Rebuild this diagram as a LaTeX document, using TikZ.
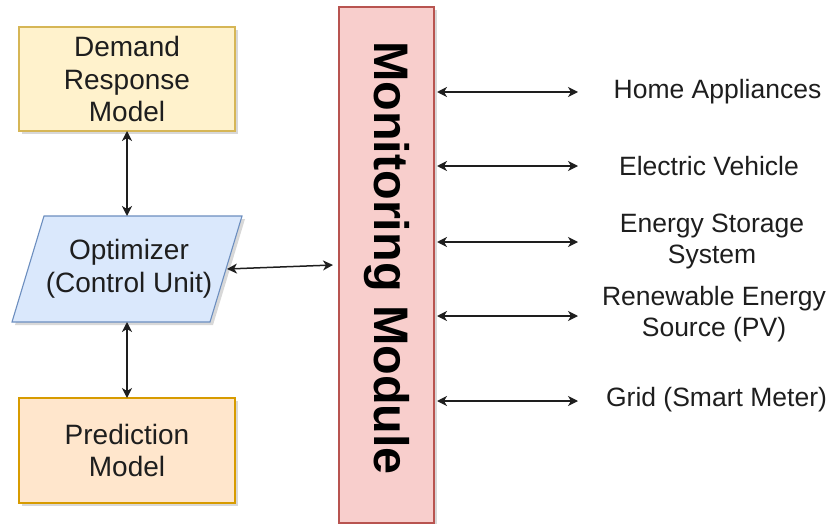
\documentclass[tikz,border=0pt]{standalone}
\usepackage{fontspec}
\setmainfont{Liberation Sans}
\usetikzlibrary{arrows.meta,shadows,calc}
\definecolor{drFill}{HTML}{FFF2CC}
\definecolor{drLine}{HTML}{D6B656}
\definecolor{optFill}{HTML}{DAE8FC}
\definecolor{optLine}{HTML}{6C8EBF}
\definecolor{pmFill}{HTML}{FFE6CC}
\definecolor{pmLine}{HTML}{D79B00}
\definecolor{monFill}{HTML}{F8CECC}
\definecolor{monLine}{HTML}{B85450}
\definecolor{ink}{HTML}{1E1E1E}
\begin{document}
\begin{tikzpicture}[x=1pt,y=-1pt,
  softshadow/.style={drop shadow={shadow xshift=3pt,shadow yshift=-3pt,opacity=0.22,fill=black!70}},
  modelbox/.style={draw,line width=1.1pt,inner sep=0pt,outer sep=0pt,
    minimum width=216pt,minimum height=104pt,align=center,text=ink,
    font=\fontsize{28}{32.5}\selectfont,softshadow},
  tip/.tip={Stealth[length=10pt,width=10pt,inset=3pt]},
  link/.style={tip-tip,line width=1.5pt,draw=ink},
  devlabel/.style={align=center,text=ink,font=\fontsize{26.5}{31}\selectfont}]
  \useasboundingbox (0,0) rectangle (832,524);

  % left column: models and the optimizer
  \node[modelbox,fill=drFill,draw=drLine] (dr) at (127,79) {Demand\\Response\\Model};
  \node[modelbox,fill=pmFill,draw=pmLine,minimum height=105pt] (pm) at (127,450.5) {Prediction\\Model};
  \node[inner sep=0pt,outer sep=0pt,minimum width=230pt,minimum height=106pt] (opt) at (127,269) {};
  \draw[fill=optFill,draw=optLine,line width=1.1pt,softshadow]
    ($(opt.north west)+(32,0)$) -- (opt.north east) -- ($(opt.south east)+(-32,0)$)
    -- (opt.south west) -- cycle;
  \node[align=center,text=ink,font=\fontsize{28}{32.5}\selectfont] (optText) at (129,269)
    {Optimizer\\(Control Unit)};

  % monitoring module
  \node[draw=monLine,fill=monFill,line width=1.1pt,inner sep=0pt,outer sep=0pt,
    minimum width=95pt,minimum height=516pt,softshadow] (mon) at (386.5,265) {};
  \node[rotate=-90,text=black,font=\fontsize{48.5}{50}\selectfont\bfseries] (monText)
    at (386.5,258) {Monitoring Module};

  % connections on the left
  \draw[link] (dr.south) -- (opt.north);
  \draw[link] (opt.south) -- (pm.north);
  \coordinate (optR) at (227,269);
  \coordinate (monIn) at (333,265);
  \draw[link] (optR) -- (monIn);

  % devices on the right
  \node[devlabel] (l1) at (717.5,92) {Home Appliances};
  \node[devlabel] (l2) at (709,166) {Electric Vehicle};
  \node[devlabel] (l3) at (712,241) {Energy Storage\\System};
  \node[devlabel] (l4) at (714,314) {Renewable Energy\\Source (PV)};
  \node[devlabel] (l5) at (716.5,400) {Grid (Smart Meter)};

  \coordinate (r1) at (578,92);
  \coordinate (r2) at (578,166);
  \coordinate (r3) at (578,242);
  \coordinate (r4) at (578,316);
  \coordinate (r5) at (578,401);
  \foreach \r in {r1,r2,r3,r4,r5}
    \draw[link] ([xshift=3pt]mon.east |- \r) -- (\r);
\end{tikzpicture}
\end{document}
